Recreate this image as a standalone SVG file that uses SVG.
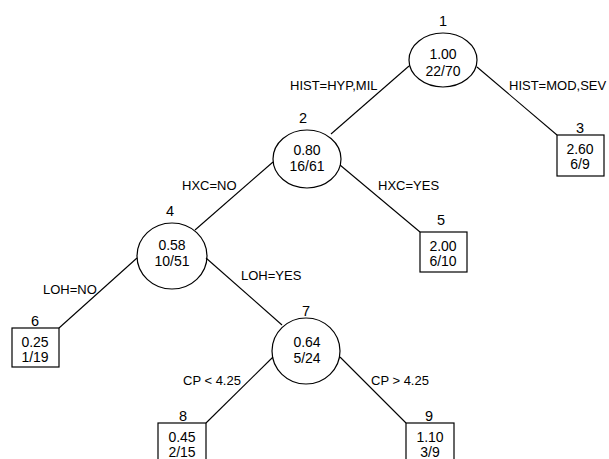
<svg xmlns="http://www.w3.org/2000/svg" width="609" height="459" viewBox="0 0 609 459">
<style>
.n{fill:none;stroke:#000;stroke-width:1.2}
.e{stroke:#000;stroke-width:1.1;fill:none}
text{font-family:"Liberation Sans",Arial,sans-serif;fill:#000}
.v{font-size:14px;text-anchor:middle}
.id{font-size:14.5px;text-anchor:middle}
.l{font-size:13px}
</style>
<rect width="609" height="459" fill="#fff"/>
<g id="edges">
<line class="e" x1="409" y1="66" x2="331" y2="134"/>
<line class="e" x1="477" y1="67" x2="557" y2="135"/>
<line class="e" x1="273" y1="162" x2="195" y2="230"/>
<line class="e" x1="340" y1="165" x2="420" y2="232"/>
<line class="e" x1="137" y1="258" x2="59" y2="328"/>
<line class="e" x1="206" y1="258" x2="282" y2="325"/>
<line class="e" x1="273" y1="357" x2="206" y2="423"/>
<line class="e" x1="340" y1="357" x2="406" y2="423"/>
<text class="l" x="290" y="90">HIST=HYP,MIL</text>
<text class="l" x="509" y="90">HIST=MOD,SEV</text>
<text class="l" x="182" y="190">HXC=NO</text>
<text class="l" x="378" y="190">HXC=YES</text>
<text class="l" x="43" y="294">LOH=NO</text>
<text class="l" x="241" y="280">LOH=YES</text>
<text class="l" x="183" y="385">CP &lt; 4.25</text>
<text class="l" x="371" y="385">CP &gt; 4.25</text>
</g>
<g id="node1">
<ellipse class="n" cx="443" cy="60" rx="34" ry="27"/>
<text class="id" x="443" y="26">1</text>
<text class="v" x="443" y="59">1.00</text>
<text class="v" x="443" y="76">22/70</text>
</g>
<g id="node2">
<ellipse class="n" cx="307" cy="159" rx="34" ry="29"/>
<text class="id" x="303" y="123">2</text>
<text class="v" x="307" y="155">0.80</text>
<text class="v" x="307" y="171">16/61</text>
</g>
<g id="node3">
<rect class="n" x="557" y="135" width="47" height="41"/>
<text class="id" x="580" y="133">3</text>
<text class="v" x="580" y="154">2.60</text>
<text class="v" x="580" y="169">6/9</text>
</g>
<g id="node4">
<ellipse class="n" cx="172" cy="256" rx="35" ry="33"/>
<text class="id" x="170" y="216">4</text>
<text class="v" x="172" y="250">0.58</text>
<text class="v" x="172" y="266">10/51</text>
</g>
<g id="node5">
<rect class="n" x="420" y="232" width="47" height="40"/>
<text class="id" x="441" y="225">5</text>
<text class="v" x="443" y="251">2.00</text>
<text class="v" x="443" y="266">6/10</text>
</g>
<g id="node6">
<rect class="n" x="12" y="328" width="47" height="39"/>
<text class="id" x="35" y="326">6</text>
<text class="v" x="35" y="347">0.25</text>
<text class="v" x="35" y="362">1/19</text>
</g>
<g id="node7">
<ellipse class="n" cx="306" cy="351" rx="34" ry="33"/>
<text class="id" x="306" y="316">7</text>
<text class="v" x="307" y="347">0.64</text>
<text class="v" x="307" y="363">5/24</text>
</g>
<g id="node8">
<rect class="n" x="158" y="423" width="48" height="45"/>
<text class="id" x="183" y="421">8</text>
<text class="v" x="182" y="442">0.45</text>
<text class="v" x="182" y="457">2/15</text>
</g>
<g id="node9">
<rect class="n" x="406" y="423" width="48" height="45"/>
<text class="id" x="429" y="421">9</text>
<text class="v" x="430" y="442">1.10</text>
<text class="v" x="430" y="457">3/9</text>
</g>
</svg>
